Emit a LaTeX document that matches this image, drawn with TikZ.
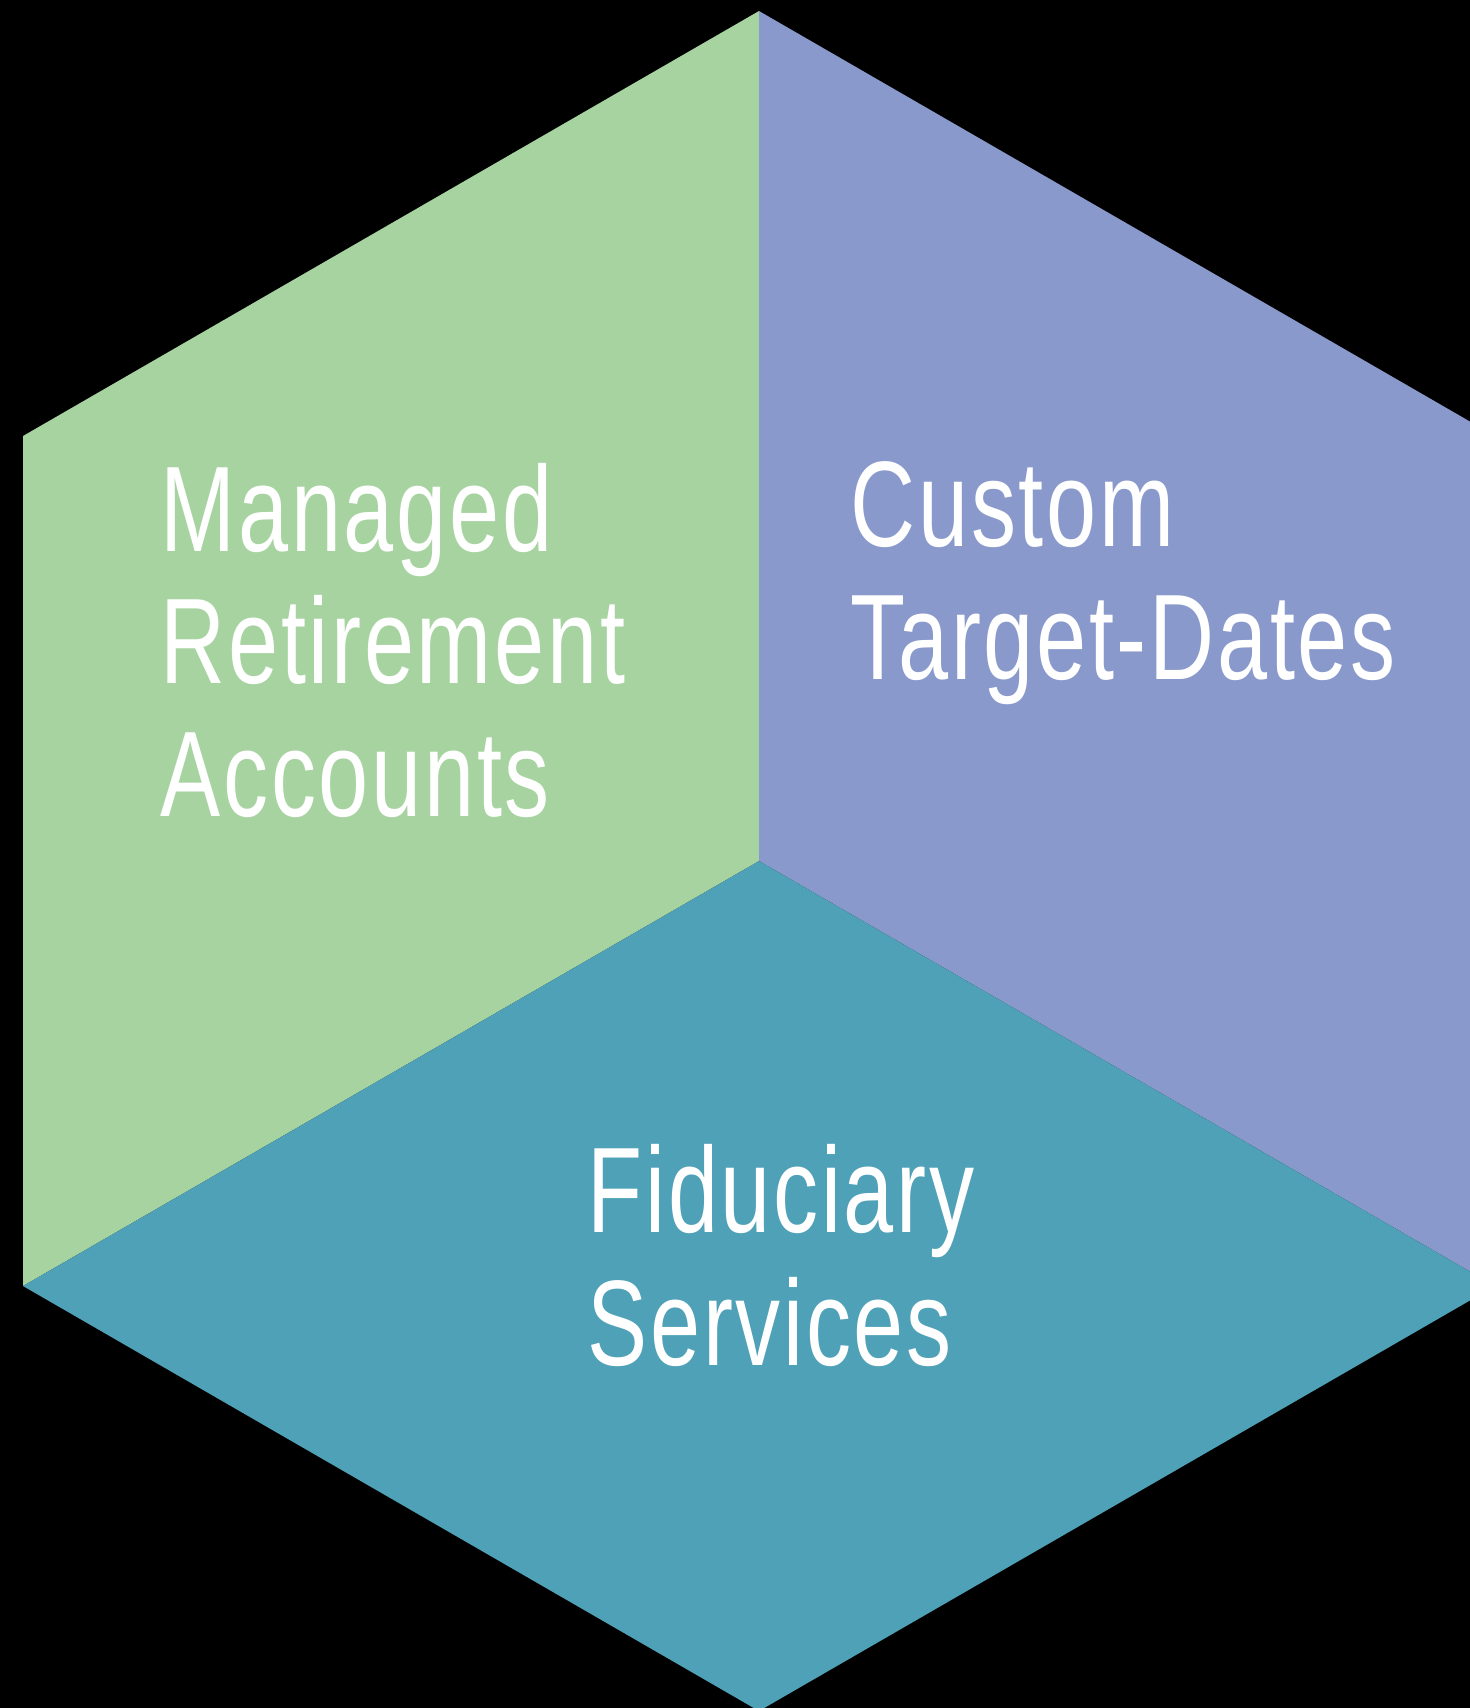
\documentclass[tikz,border=0pt]{standalone}
\usepackage{fontspec}
\setmainfont{Liberation Sans}[FakeStretch=0.74,LetterSpace=2.2]
\usepackage{tikz}
\usetikzlibrary{calc}
\definecolor{FaceGreen}{RGB}{167,211,161}
\definecolor{FacePurple}{RGB}{138,153,203}
\definecolor{FaceTeal}{RGB}{79,161,183}

\begin{document}
\begin{tikzpicture}[
  x=0.01cm, y=-0.01cm,
  face/.style={draw=none},
  facelabel/.style={
    anchor=base west,
    align=left,
    inner sep=0pt,
    text=white,
    font=\fontsize{34.6pt}{37.6pt}\selectfont
  }
]
\useasboundingbox (0,0) rectangle (1470,1708);
\fill[black] (0,0) rectangle (1470,1708);
\clip (0,0) rectangle (1470,1708);
% hexagon corners
\coordinate (mid) at (759,861);
\coordinate (top) at (759,11);
\coordinate (ur) at (1495,436);
\coordinate (lr) at (1495,1286);
\coordinate (bot) at (759,1711);
\coordinate (ll) at (23,1286);
\coordinate (ul) at (23,436);

\fill[face,FaceGreen] (top) -- (mid) -- (ll) -- (ul) -- cycle;
\fill[face,FacePurple] (top) -- (ur) -- (lr) -- (mid) -- cycle;
\fill[face,FaceTeal] (mid) -- (lr) -- (bot) -- (ll) -- cycle;

% labels sit on the baseline of their last line
\node[facelabel] (managed) at (160,816) {Managed\\Retirement\\Accounts};
\node[facelabel] (custom) at (850,679) {Custom\\Target-Dates};
\node[facelabel] (fiduciary) at (587,1365) {Fiduciary\\Services};
\end{tikzpicture}
\end{document}
